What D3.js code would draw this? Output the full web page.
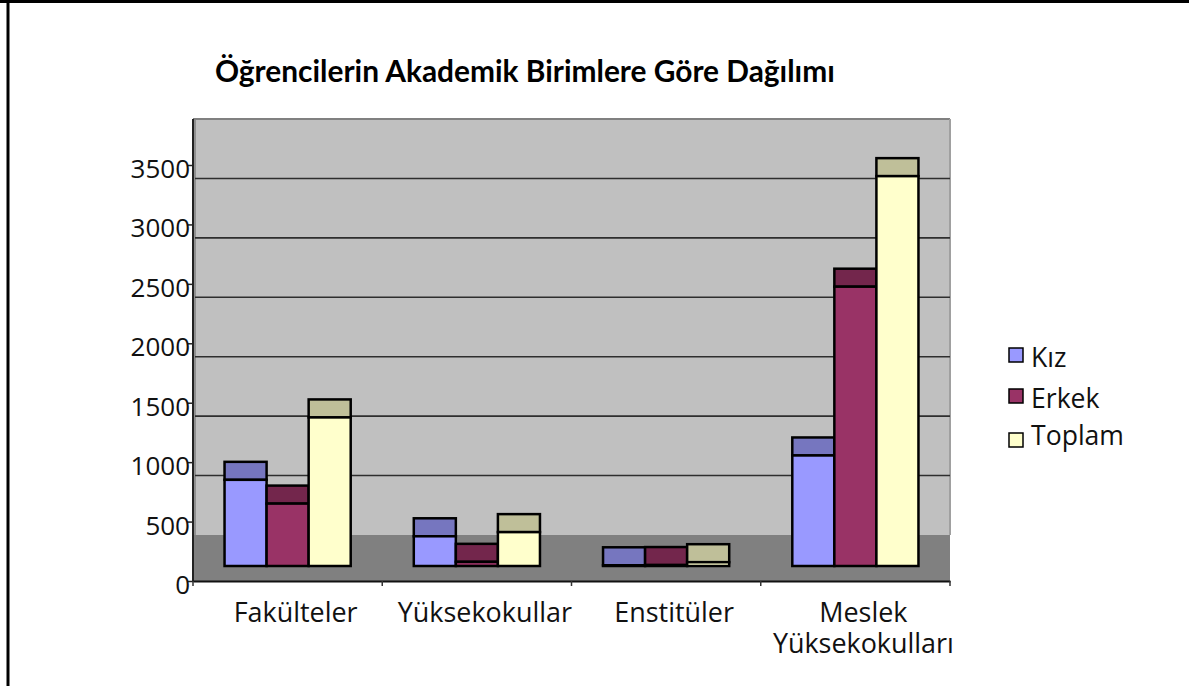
<!DOCTYPE html>
<html>
<head>
<meta charset="utf-8">
<script src="https://cdn.jsdelivr.net/npm/d3@7"></script>
<style>
html,body{margin:0;padding:0;background:#fff;}
svg{display:block;}
</style>
</head>
<body>
<svg id="chart" width="1189" height="686"></svg>
<script>
// ---- data ----
const categories = ["Fakülteler", "Yüksekokullar", "Enstitüler", "Meslek Yüksekokulları"];
const categoryLines = [["Fakülteler"], ["Yüksekokullar"], ["Enstitüler"], ["Meslek", "Yüksekokulları"]];
const seriesNames = ["Kız", "Erkek", "Toplam"];
const kiz = [725, 250, 6, 930];
const erkek = [525, 35, 8, 2350];
const toplam = [1250, 285, 32, 3280];
const yTicks = [0, 500, 1000, 1500, 2000, 2500, 3000, 3500];
const title = "Öğrencilerin Akademik Birimlere Göre Dağılımı";

const seriesValues = [kiz, erkek, toplam];
const frontColors = ["#9999ff", "#993366", "#ffffcc"];
const topColors = ["#7676bf", "#73264c", "#bfbf99"];

const svg = d3.select("#chart");

// outer frame
svg.append("line").attr("x1", 0).attr("x2", 1189).attr("y1", 1.5).attr("y2", 1.5)
  .attr("stroke", "#000").attr("stroke-width", 3);
svg.append("line").attr("x1", 8).attr("x2", 8).attr("y1", 0).attr("y2", 686)
  .attr("stroke", "#000").attr("stroke-width", 3);

// geometry
const left = 193, right = 950;
const frontBase = 581;     // y of value 0 at front plane
const depth = 46;          // floor depth (vertical offset of back plane)
const barFront = 15, barBack = 33; // bar depth offsets

const x0 = d3.scaleBand().domain(categories).range([left, right]).padding(0);
const x1 = d3.scaleBand().domain(seriesNames)
  .range([x0.bandwidth() / 6, x0.bandwidth() * 5 / 6]).padding(0);
const h = d3.scaleLinear().domain([0, 3500]).range([0, 416]);

const yAt = (v, d) => frontBase - d - h(v);

// back wall
const wallTop = yAt(3500, depth);
svg.append("rect").attr("x", left + 1).attr("y", wallTop)
  .attr("width", right - left - 1).attr("height", (frontBase - depth) - wallTop)
  .attr("fill", "#c0c0c0");
// floor
svg.append("rect").attr("x", left).attr("y", frontBase - depth)
  .attr("width", right - left).attr("height", depth)
  .attr("fill", "#808080");
// wall edges
svg.append("line").attr("x1", left).attr("x2", right).attr("y1", wallTop).attr("y2", wallTop)
  .attr("stroke", "#808080").attr("stroke-width", 2);
svg.append("line").attr("x1", right).attr("x2", right).attr("y1", wallTop).attr("y2", frontBase - depth)
  .attr("stroke", "#a0a0a0").attr("stroke-width", 2);
svg.append("line").attr("x1", left + 2).attr("x2", left + 2).attr("y1", wallTop).attr("y2", frontBase - depth)
  .attr("stroke", "#808080").attr("stroke-width", 1.5);

// gridlines on back wall
svg.append("g").selectAll("line")
  .data(yTicks.filter(v => v > 0 && v < 3500))
  .join("line")
  .attr("x1", left + 2).attr("x2", right)
  .attr("y1", d => yAt(d, depth)).attr("y2", d => yAt(d, depth))
  .attr("stroke", "#2e2e2e").attr("stroke-width", 1.6);

// bars
const groups = svg.append("g").selectAll("g")
  .data(categories)
  .join("g")
  .attr("transform", d => `translate(${x0(d)},0)`);

groups.each(function (cat, ci) {
  const g = d3.select(this);
  seriesNames.forEach((s, si) => {
    const v = seriesValues[si][ci];
    const bx = x1(s), bw = x1.bandwidth();
    const frontTop = yAt(v, barFront);
    const backTop = yAt(v, barBack);
    // top face
    g.append("rect").attr("x", bx).attr("y", backTop)
      .attr("width", bw).attr("height", frontTop - backTop)
      .attr("fill", topColors[si]).attr("stroke", "#000").attr("stroke-width", 2.5)
      .attr("stroke-linejoin", "miter");
    // front face
    g.append("rect").attr("x", bx).attr("y", frontTop)
      .attr("width", bw).attr("height", Math.max(0, yAt(0, barFront) - frontTop))
      .attr("fill", frontColors[si]).attr("stroke", "#000").attr("stroke-width", 2.5);
  });
});

// y axis (front plane)
const yAxisScale = d3.scaleLinear().domain([0, 3500]).range([frontBase, frontBase - h(3500)]);
const yAxis = d3.axisLeft(yAxisScale).tickValues(yTicks).tickSize(6).tickPadding(2).tickFormat(d3.format("d"));
const yg = svg.append("g").attr("transform", `translate(${left},0)`).call(yAxis);
yg.select(".domain").remove();
yg.selectAll(".tick line").attr("stroke", "#222").attr("stroke-width", 1.5);
yg.selectAll(".tick text")
  .attr("font-family", "Open Sans, sans-serif").attr("font-size", 26)
  .attr("fill", "#111").attr("x", -3).attr("dy", "0.48em");
svg.append("line").attr("x1", left).attr("x2", left).attr("y1", wallTop).attr("y2", frontBase + 1)
  .attr("stroke", "#222").attr("stroke-width", 2);

// x axis
const xAxis = d3.axisBottom(x0).tickSize(0).tickFormat("");
const xg = svg.append("g").attr("transform", `translate(0,${frontBase})`).call(xAxis);
xg.select(".domain").attr("stroke", "#111").attr("stroke-width", 2);
xg.selectAll(".tick").remove();
const boundaries = categories.map(c => x0(c)).concat([x0(categories[categories.length - 1]) + x0.bandwidth()]);
xg.append("g").selectAll("line").data(boundaries).join("line")
  .attr("x1", d => d).attr("x2", d => d).attr("y1", 0).attr("y2", 5)
  .attr("stroke", "#333").attr("stroke-width", 1.5);

// fit helper
function fitSize(text, family, weight, target) {
  const t = svg.append("text").attr("font-family", family).attr("font-weight", weight)
    .attr("font-size", 100).text(text);
  const w = t.node().getComputedTextLength();
  t.remove();
  return 100 * target / w;
}

const catSize = fitSize("Fakülteler", "Open Sans, sans-serif", 400, 124);
const catLabels = svg.append("g");
categories.forEach((c, i) => {
  categoryLines[i].forEach((ln, li) => {
    catLabels.append("text")
      .attr("x", x0(c) + x0.bandwidth() / 2 + 8)
      .attr("y", 622 + li * 31)
      .attr("text-anchor", "middle")
      .attr("font-family", "Open Sans, sans-serif")
      .attr("font-size", catSize)
      .attr("fill", "#111")
      .text(ln);
  });
});

// title
const titleSize = fitSize(title, "Lato, sans-serif", 700, 620);
svg.append("text").attr("x", 215).attr("y", 82)
  .attr("font-family", "Lato, sans-serif").attr("font-weight", 700)
  .attr("font-size", titleSize).attr("fill", "#000").text(title);

// legend
const legSize = fitSize("Toplam", "Open Sans, sans-serif", 400, 93);
const legY = [367, 408, 445];
const legSq = [348, 389, 433];
const leg = svg.append("g").selectAll("g").data(seriesNames).join("g");
leg.append("rect").attr("x", 1009).attr("y", (d, i) => legSq[i])
  .attr("width", 14).attr("height", 14)
  .attr("fill", (d, i) => frontColors[i]).attr("stroke", "#000").attr("stroke-width", 1.5);
leg.append("text").attr("x", 1031).attr("y", (d, i) => legY[i])
  .attr("font-family", "Open Sans, sans-serif").attr("font-size", legSize)
  .attr("fill", "#111").text(d => d);
</script>
</body>
</html>
